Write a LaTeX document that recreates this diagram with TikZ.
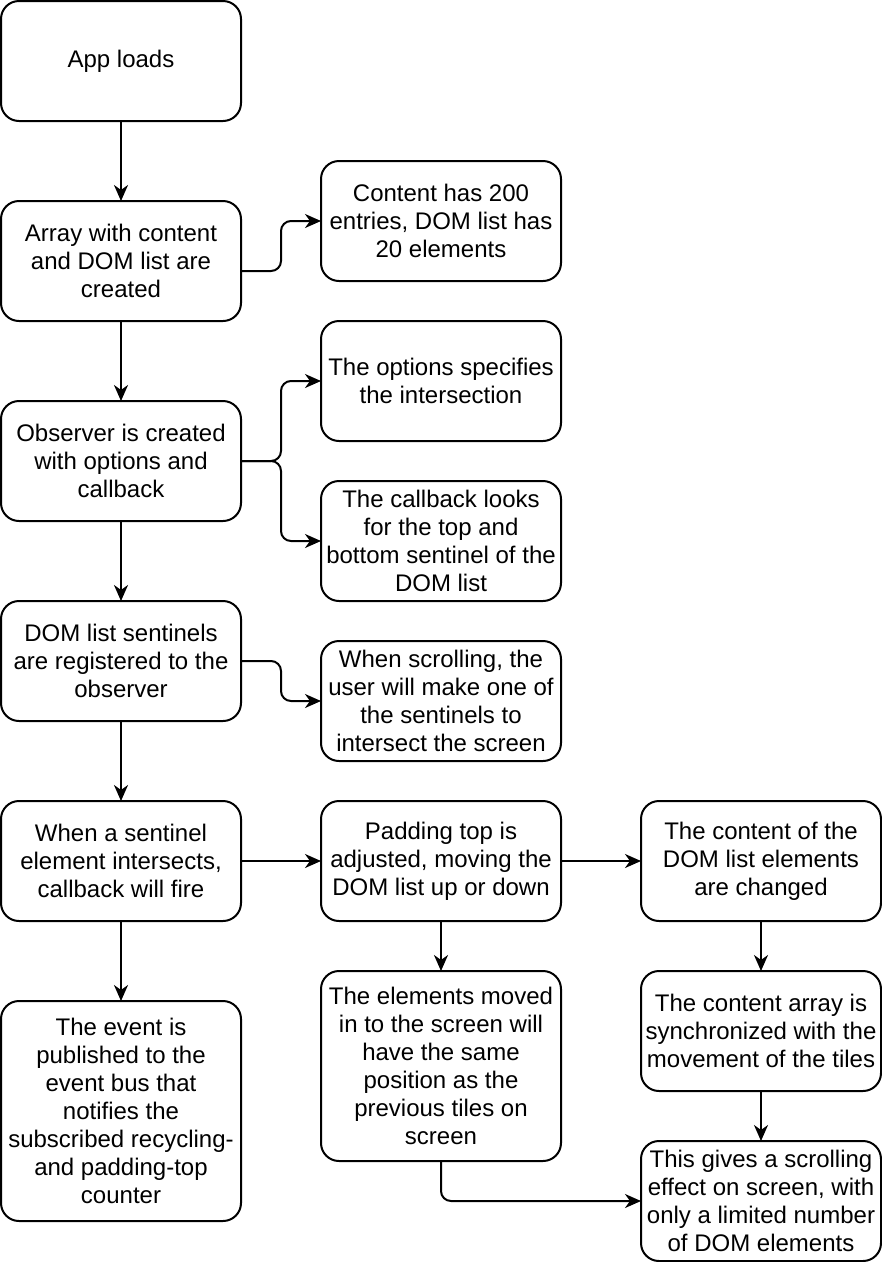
\documentclass[tikz,border=0pt]{standalone}
\usepackage{fontspec}
\setmainfont{Liberation Sans}
\usetikzlibrary{arrows.meta}

\tikzset{
  box/.style={draw,line width=2pt,rounded corners=18pt,minimum width=240pt,
    minimum height=120pt,inner sep=0pt,outer sep=0pt,align=center,
    font=\fontsize{24}{28}\selectfont},
  link/.style={line width=2pt,rounded corners=10pt,
    -{Stealth[length=16pt,width=14pt,inset=5pt]}}
}

\begin{document}
\begin{tikzpicture}[x=1pt,y=-1pt]

\useasboundingbox (0,0) rectangle (882,1262);

\node[box] (appLoads) at (121,61) {App loads};
\node[box] (arrayCreated) at (121,261) {Array with content\\and DOM list are\\created};
\node[box] (observer) at (121,461) {Observer is created\\with options and\\callback};
\node[box] (sentinels) at (121,661) {DOM list sentinels\\are registered to the\\observer};
\node[box] (sentinelFires) at (121,861) {When a sentinel\\element intersects,\\callback will fire};
\node[box,minimum height=220pt] (eventBus) at (121,1111) {The event is\\published to the\\event bus that\\notifies the\\subscribed recycling-\\and padding-top\\counter};

\node[box] (contentInfo) at (441,221) {Content has 200\\entries, DOM list has\\20 elements};
\node[box] (optionsInfo) at (441,381) {The options specifies\\the intersection};
\node[box] (callbackInfo) at (441,541) {The callback looks\\for the top and\\bottom sentinel of the\\DOM list};
\node[box] (scrollInfo) at (441,701) {When scrolling, the\\user will make one of\\the sentinels to\\intersect the screen};
\node[box] (paddingTop) at (441,861) {Padding top is\\adjusted, moving the\\DOM list up or down};
\node[box,minimum height=190pt] (elementsMoved) at (441,1066) {The elements moved\\in to the screen will\\have the same\\position as the\\previous tiles on\\screen};

\node[box] (domChanged) at (761,861) {The content of the\\DOM list elements\\are changed};
\node[box] (arraySync) at (761,1031) {The content array is\\synchronized with the\\movement of the tiles};
\node[box] (scrollEffect) at (761,1201) {This gives a scrolling\\effect on screen, with\\only a limited number\\of DOM elements};

\foreach \a/\b in {appLoads/arrayCreated,arrayCreated/observer,observer/sentinels,
  sentinels/sentinelFires,sentinelFires/eventBus,paddingTop/elementsMoved,
  domChanged/arraySync,arraySync/scrollEffect}
  \draw[link] (\a.south) -- (\b.north);

\draw[link] (sentinelFires.east) -- (paddingTop.west);
\draw[link] (paddingTop.east) -- (domChanged.west);

\draw[link] ([yshift=-10pt]arrayCreated.east) -- ++(40,0) |- (contentInfo.west);
\draw[link] (observer.east) -- ++(40,0) |- (optionsInfo.west);
\draw[link] (observer.east) -- ++(40,0) |- (callbackInfo.west);
\draw[link] (sentinels.east) -- ++(40,0) |- (scrollInfo.west);
\draw[link] (elementsMoved.south) |- (scrollEffect.west);

\end{tikzpicture}
\end{document}
